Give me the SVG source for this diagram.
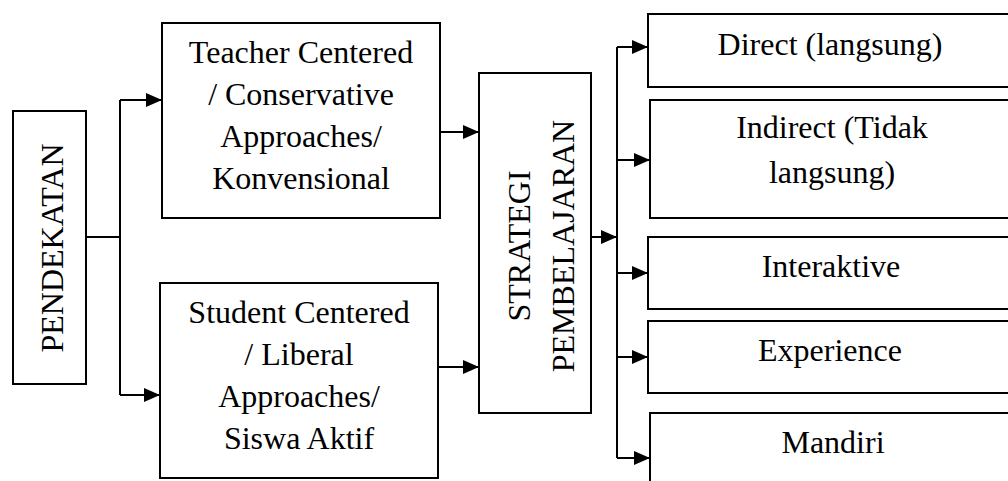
<svg xmlns="http://www.w3.org/2000/svg" width="1008" height="481" viewBox="0 0 1008 481">
<style>
.box{fill:#fff;stroke:#000;stroke-width:2}
.t{font-family:"Liberation Serif","Times New Roman",serif;font-size:32px;fill:#000;text-anchor:middle}
.c{fill:none;stroke:#000;stroke-width:2}
</style>
<defs>
<marker id="ah" markerWidth="16" markerHeight="14" refX="16" refY="7" orient="auto" markerUnits="userSpaceOnUse">
<path d="M0,0 L16,7 L0,14 Z" fill="#000"/>
</marker>
</defs>
<rect width="1008" height="481" fill="#fff"/>
<g id="pendekatan">
<rect class="box" x="13" y="111" width="73" height="273"/>
<text class="t" transform="translate(63,248) rotate(-90)">PENDEKATAN</text>
</g>
<g id="teacher">
<rect class="box" x="162" y="23" width="278" height="195"/>
<text class="t" x="301" y="63">Teacher Centered</text>
<text class="t" x="301" y="105">/ Conservative</text>
<text class="t" x="301" y="147">Approaches/</text>
<text class="t" x="301" y="189">Konvensional</text>
</g>
<g id="student">
<rect class="box" x="160" y="283" width="278" height="195"/>
<text class="t" x="299" y="323">Student Centered</text>
<text class="t" x="299" y="365">/ Liberal</text>
<text class="t" x="299" y="407">Approaches/</text>
<text class="t" x="299" y="449">Siswa Aktif</text>
</g>
<g id="strategi">
<rect class="box" x="479" y="73" width="112" height="340"/>
<text class="t" transform="translate(530,246) rotate(-90)">STRATEGI</text>
<text class="t" transform="translate(574,246) rotate(-90)">PEMBELAJARAN</text>
</g>
<g id="direct">
<rect class="box" x="648" y="14" width="370" height="73"/>
<text class="t" x="830" y="55">Direct (langsung)</text>
</g>
<g id="indirect">
<rect class="box" x="650" y="100" width="370" height="118"/>
<text class="t" x="832" y="138">Indirect (Tidak</text>
<text class="t" x="832" y="183">langsung)</text>
</g>
<g id="interaktive">
<rect class="box" x="648" y="237" width="370" height="72"/>
<text class="t" x="831" y="277">Interaktive</text>
</g>
<g id="experience">
<rect class="box" x="648" y="321" width="370" height="72"/>
<text class="t" x="830" y="361">Experience</text>
</g>
<g id="mandiri">
<rect class="box" x="650" y="413" width="370" height="80"/>
<text class="t" x="833" y="453">Mandiri</text>
</g>
<g id="connectors">
<path class="c" d="M86,237 H120"/>
<path class="c" d="M120,395 V100"/>
<path class="c" d="M120,100 H162" marker-end="url(#ah)"/>
<path class="c" d="M120,395 H160" marker-end="url(#ah)"/>
<path class="c" d="M440,132 H479" marker-end="url(#ah)"/>
<path class="c" d="M438,367 H479" marker-end="url(#ah)"/>
<path class="c" d="M591,237 H617" marker-end="url(#ah)"/>
<path class="c" d="M617,47 V458"/>
<path class="c" d="M617,47 H648" marker-end="url(#ah)"/>
<path class="c" d="M617,160 H650" marker-end="url(#ah)"/>
<path class="c" d="M617,273 H648" marker-end="url(#ah)"/>
<path class="c" d="M617,357 H648" marker-end="url(#ah)"/>
<path class="c" d="M617,458 H650" marker-end="url(#ah)"/>
</g>
</svg>
